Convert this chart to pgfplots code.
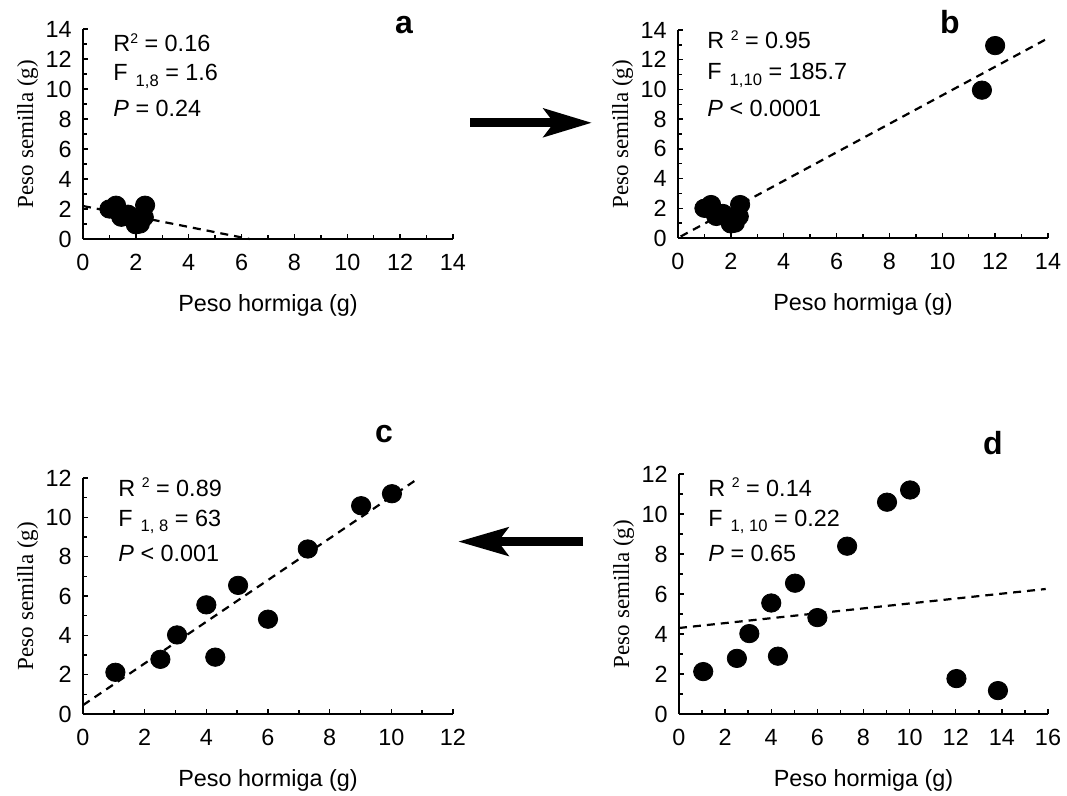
\documentclass[border=0pt]{standalone}
\usepackage{fontspec}
\setmainfont{Liberation Sans}
\newfontfamily\serif{Liberation Serif}
\usepackage{pgfplots}
\usepackage{pgfplotstable}
\pgfplotsset{compat=1.18}
\usetikzlibrary{arrows.meta}

\newcommand{\sub}[1]{\raisebox{-2.7pt}{\fontsize{8.3}{9}\selectfont #1}}
\newcommand{\sups}[1]{\raisebox{4.3pt}{\fontsize{7}{8}\selectfont #1}}

% grupo de hormigas pequenas (comun a a, b)
\pgfplotstableread{
x y
1.00 2.00
1.25 2.25
1.30 1.85
1.45 1.45
1.70 1.65
1.90 1.35
2.00 0.95
2.15 1.00
2.30 1.45
2.35 2.25
}\pequenas
\pgfplotstableread{
x y
11.50 9.95
12.00 12.95
}\grandesb
\pgfplotstableread{
x y
1.05 2.12
2.51 2.78
3.05 4.02
4.00 5.55
4.29 2.89
5.03 6.54
6.00 4.82
7.29 8.39
9.02 10.59
10.02 11.20
}\medianas
\pgfplotstableread{
x y
12.03 1.77
13.83 1.17
}\grandesd

\pgfplotsset{
  panel/.style={
    scale only axis, anchor=south west, clip=false,
    axis lines*=left, axis line style={line width=0.9pt},
    tick align=inside, major tick length=2.4pt, minor tick length=1.8pt,
    every tick/.style={line width=0.7pt, black},
    minor tick num=1, xtick distance=2, ytick distance=2,
    /pgf/number format/assume math mode=true,
    tick label style={font=\fontsize{11.7}{12}\selectfont, inner sep=0pt},
    xticklabel style={anchor=north, yshift=-7.5pt},
    yticklabel style={anchor=east, xshift=-5.5pt},
    xlabel={Peso hormiga (g)}, ylabel={\serif Peso semilla (g)},
    xlabel style={at={(axis description cs:0.5,0)}, anchor=base, yshift=-36.5pt,
      inner sep=0pt, font=\fontsize{11.7}{12}\selectfont},
    ylabel style={at={(axis description cs:-0.135,0.5)}, anchor=base,
      inner sep=0pt, font=\fontsize{11.5}{12}\selectfont},
  },
  puntos/.style={only marks, mark=*, mark size=4.6pt,
    mark options={fill=black, draw=black, xscale=1.05}},
  recta/.style={black, line width=1.1pt, dash pattern=on 4pt off 3pt},
}

\begin{document}
\begin{tikzpicture}
\useasboundingbox (0,0) rectangle (533.5pt,398pt);

\begin{axis}[panel, at={(41.5pt,278.5pt)}, width=185pt, height=105pt,
  xmin=0, xmax=14, ymin=0, ymax=14]
\addplot[recta] coordinates {(0,2.2) (6.3,0)};
\addplot[puntos] table {\pequenas};
\end{axis}

\begin{axis}[panel, at={(339pt,279pt)}, width=185pt, height=104pt,
  xmin=0, xmax=14, ymin=0, ymax=14]
\addplot[recta] coordinates {(0.1,0.1) (13.9,13.35)};
\addplot[puntos] table {\pequenas};
\addplot[puntos] table {\grandesb};
\end{axis}

\begin{axis}[panel, at={(41.5pt,41pt)}, width=185pt, height=118pt,
  xmin=0, xmax=12, ymin=0, ymax=12]
\addplot[recta] coordinates {(0,0.45) (10.8,11.9)};
\addplot[puntos] table {\medianas};
\end{axis}

\begin{axis}[panel, at={(339.5pt,41pt)}, width=184.5pt, height=120pt,
  xmin=0, xmax=16, ymin=0, ymax=12]
\addplot[recta] coordinates {(0,4.3) (15.9,6.25)};
\addplot[puntos] table {\medianas};
\addplot[puntos] table {\grandesd};
\end{axis}

% estadisticos
\begin{scope}[every node/.style={anchor=base west, inner sep=0pt, font=\fontsize{11.7}{12}\selectfont}]
\node at (56.5pt,372pt) {R\sups{2} = 0.16};
\node at (56.5pt,357.5pt) {F\hspace{4pt}\sub{1,8} = 1.6};
\node at (56.5pt,339.7pt) {\textit{P} = 0.24};
\node at (353.5pt,373.5pt) {R \sups{2} = 0.95};
\node at (353.5pt,358pt) {F\hspace{4pt}\sub{1,10} = 185.7};
\node at (353.5pt,339.5pt) {\textit{P} {\textless} 0.0001};
\node at (59pt,149.7pt) {R \sups{2} = 0.89};
\node at (59pt,134.7pt) {F\hspace{4pt}\sub{1, 8} = 63};
\node at (59pt,117.2pt) {\textit{P} {\textless} 0.001};
\node at (354pt,149.7pt) {R \sups{2} = 0.14};
\node at (354pt,134.7pt) {F\hspace{4pt}\sub{1, 10} = 0.22};
\node at (354pt,117.2pt) {\textit{P} = 0.65};
\end{scope}

% letras de panel
\begin{scope}[every node/.style={anchor=base, inner sep=0pt, font=\bfseries\fontsize{16}{16}\selectfont}]
\node at (202pt,381pt) {a};
\node at (475pt,381pt) {b};
\node at (192pt,176.5pt) {c};
\node at (496.5pt,170.5pt) {d};
\end{scope}

% flechas
\draw[line width=4.5pt, -{Stealth[length=24pt, width=14pt, inset=5pt]}] (235pt,336.6pt) -- (296pt,336.6pt);
\draw[line width=4.5pt, -{Stealth[length=25pt, width=14pt, inset=5pt]}] (291.5pt,127.2pt) -- (229pt,127.2pt);
\end{tikzpicture}
\end{document}
